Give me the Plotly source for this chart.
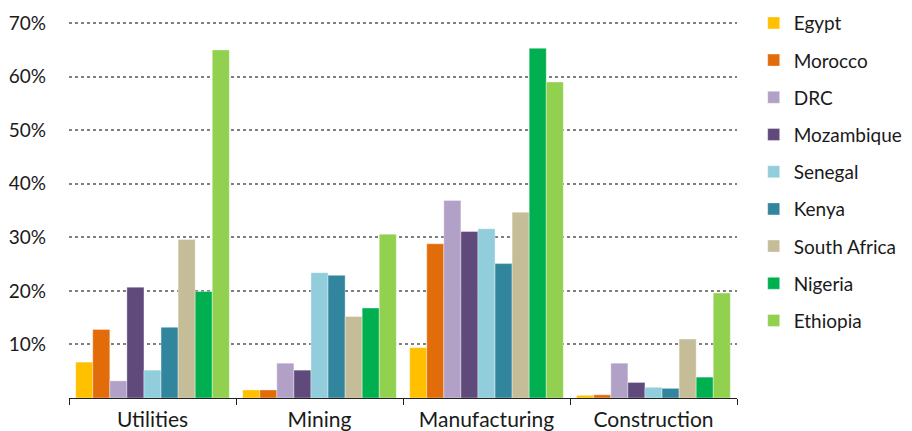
import plotly.graph_objects as go

categories = ["Utilities", "Mining", "Manufacturing", "Construction"]
countries = ["Egypt", "Morocco", "DRC", "Mozambique", "Senegal", "Kenya",
             "South Africa", "Nigeria", "Ethiopia"]
colors = ["#FFC000", "#E36C0A", "#B2A1C7", "#604A7B", "#92CDDC", "#31859C",
          "#C4BD97", "#00B050", "#92D050"]

egypt = [6.7, 1.5, 9.4, 0.5]
morocco = [12.8, 1.5, 28.8, 0.6]
drc = [3.2, 6.5, 36.9, 6.5]
mozambique = [20.7, 5.2, 31.1, 2.9]
senegal = [5.2, 23.4, 31.6, 2.0]
kenya = [13.2, 22.9, 25.1, 1.8]
south_africa = [29.6, 15.2, 34.7, 11.0]
nigeria = [19.9, 16.8, 65.3, 3.9]
ethiopia = [65.0, 30.6, 59.0, 19.6]

series = [egypt, morocco, drc, mozambique, senegal, kenya, south_africa, nigeria, ethiopia]
y_ticks = [10, 20, 30, 40, 50, 60, 70]
y_ticktext = [f"{v}%" for v in y_ticks]

FONT = "Lato, Open Sans, sans-serif"

fig = go.Figure()
for name, vals, col in zip(countries, series, colors):
    fig.add_trace(go.Bar(
        x=categories, y=vals, name=name, legendgroup=name,
        marker=dict(color=col, line=dict(color="rgba(255,255,255,0.6)", width=0.6)),
    ))

fig.update_layout(
    width=904, height=423,
    margin=dict(l=61, r=175, t=13, b=33, autoexpand=False),
    paper_bgcolor="white", plot_bgcolor="white",
    barmode="group", bargap=0.08, bargroupgap=0,
    font=dict(family=FONT, size=19, color="#1a1a1a"),
    showlegend=True,
    legend=dict(x=1.025, y=1.045, xanchor="left", yanchor="top", maxheight=420,
                font=dict(size=19), tracegroupgap=9.5, traceorder="grouped",
                itemwidth=30, bgcolor="rgba(0,0,0,0)"),
    xaxis=dict(showline=True, linecolor="#222", linewidth=1.2, automargin=False,
               ticks="outside", tickson="boundaries", ticklen=6, tickcolor="#222",
               tickfont=dict(size=21), showgrid=False, ticklabelstandoff=3),
    yaxis=dict(range=[0, 70.4], tickvals=y_ticks, ticktext=y_ticktext, automargin=False,
               showgrid=True, gridcolor="#808080", griddash="dot", gridwidth=1.5,
               zeroline=False, showline=False, tickfont=dict(size=19), ticklabelstandoff=22),
)

fig.write_html("out.html")
